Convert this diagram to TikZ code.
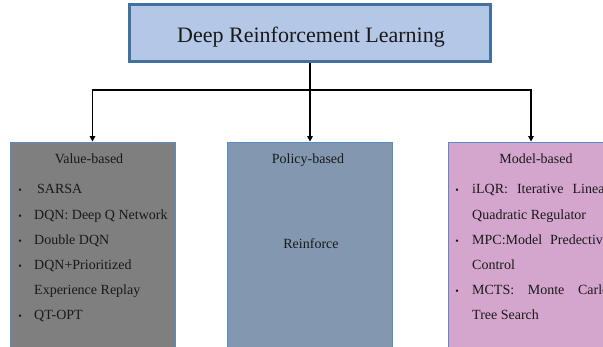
\documentclass[tikz,border=0pt]{standalone}
\usepackage{fontspec}
\setmainfont{Liberation Serif}
\usetikzlibrary{arrows.meta}
\definecolor{topfill}{RGB}{180,199,231}
\definecolor{topedge}{RGB}{65,113,156}
\definecolor{valfill}{RGB}{127,127,127}
\definecolor{polfill}{RGB}{132,151,176}
\definecolor{modfill}{RGB}{213,166,205}
\definecolor{thinedge}{RGB}{91,139,196}
\tikzset{
  catbox/.style={draw=thinedge, line width=0.8pt, minimum width=165pt, minimum height=218pt, inner sep=0pt},
  txt/.style={font=\fontsize{14}{16}\selectfont, inner sep=0pt, text=black!90},
  bul/.style={font=\fontsize{10}{12}\selectfont, inner sep=0pt, anchor=base, text=black!90},
  conn/.style={line width=1.8pt, black},
  tip/.style={-{Triangle[length=5.5pt,width=5.5pt]}}
}
\begin{document}
\begin{tikzpicture}[x=1pt,y=-1pt]
\useasboundingbox (0,0) rectangle (603,347);
\clip (0,0) rectangle (603,347);
\fill[white] (0,0) rectangle (603,347);
% top
\node[draw=topedge, fill=topfill, line width=3.5pt, minimum width=361pt, minimum height=57pt, inner sep=0pt] (top) at (310,33) {};
\node[font=\fontsize{22}{24}\selectfont, anchor=base, inner sep=0pt, text=black!90] (title) at (311,43) {Deep Reinforcement Learning};
% category boxes
\node[catbox, fill=valfill] (val) at (92.5,251) {};
\node[catbox, fill=polfill] (pol) at (310,251) {};
\node[catbox, fill=modfill] (mod) at (531,251) {};
% connectors
\coordinate (j) at (310,90);
\draw[conn] (top.south) -- (j);
\draw[conn, tip] (j) -| (val.north);
\draw[conn, tip] (j) -- (pol.north);
\draw[conn, tip] (j) -| (mod.north);
% value-based
\node[txt, anchor=base] (vh) at (89,164) {Value-based};
\node[bul] (vb1) at (20,194) {•};
\node[txt, anchor=base west] (v1) at (37,194) {SARSA};
\node[bul] (vb2) at (20,219.2) {•};
\node[txt, anchor=base west] (v2) at (34,219.2) {DQN: Deep Q Network};
\node[bul] (vb3) at (20,244.4) {•};
\node[txt, anchor=base west] (v3) at (34,244.4) {Double DQN};
\node[bul] (vb4) at (20,269.6) {•};
\node[txt, anchor=base west] (v4) at (34,269.6) {DQN+Prioritized};
\node[txt, anchor=base west] (v5) at (34,294.8) {Experience Replay};
\node[bul] (vb6) at (20,320) {•};
\node[txt, anchor=base west] (v6) at (34,320) {QT-OPT};
% policy-based
\node[txt, anchor=base] (ph) at (308,164) {Policy-based};
\node[txt, anchor=base] (p1) at (311,249) {Reinforce};
% model-based
\node[txt, anchor=base] (mh) at (536,164) {Model-based};
\node[bul] (mb1) at (457,194) {•};
\node[txt, anchor=base west] (m1) at (472,194) {\makebox[137pt][s]{iLQR: Iterative Linear}};
\node[txt, anchor=base west] (m2) at (472,219.2) {Quadratic Regulator};
\node[bul] (mb3) at (457,244.4) {•};
\node[txt, anchor=base west] (m3) at (472,244.4) {\makebox[137pt][s]{MPC:Model Predective}};
\node[txt, anchor=base west] (m4) at (472,269.6) {Control};
\node[bul] (mb5) at (457,294.8) {•};
\node[txt, anchor=base west] (m5) at (472,294.8) {\makebox[137pt][s]{MCTS: Monte Carlo}};
\node[txt, anchor=base west] (m6) at (472,320) {Tree Search};
\end{tikzpicture}
\end{document}
